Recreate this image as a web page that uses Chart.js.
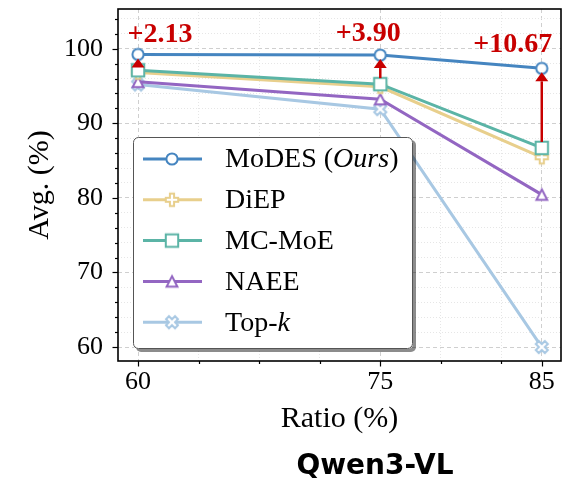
<!DOCTYPE html>
<html><head><meta charset="utf-8">
<script src="https://cdn.jsdelivr.net/npm/chart.js"></script>
<style>
html,body{margin:0;padding:0;background:#fff;}
#wrap{position:relative;width:575px;height:479px;overflow:hidden;}
#caption{position:absolute;left:225px;width:300px;top:451px;text-align:center;font:bold 28px "DejaVu Sans",sans-serif;line-height:28px;color:#000;}
</style></head>
<body><div id="wrap"><canvas id="c" width="575" height="479"></canvas><div id="caption">Qwen3-VL</div></div>
<script>
// ---- data ----
const ratios = [60, 75, 85];
const seriesNames = ['MoDES (*Ours*)', 'DiEP', 'MC-MoE', 'NAEE', 'Top-*k*'];
const modes = [99.24, 99.15, 97.37];
const diep  = [96.80, 94.90, 85.45];
const mcmoe = [97.11, 95.25, 86.70];
const naee  = [95.56, 93.24, 80.44];
const topk  = [95.20, 91.90, 60.00];
const gains = ['+2.13', '+3.90', '+10.67'];
const xTicks = [60, 63.75, 67.5, 71.25, 75, 78.75, 82.5, 85];
const xMajor = [60, 75, 85];
const yTicks = [60, 62, 64, 66, 68, 70, 72, 74, 76, 78, 80, 82, 84, 86, 88, 90, 92, 94, 96, 98, 100, 102, 104];
const yMajor = [60, 70, 80, 90, 100];

const colors = ['#4585c0', '#e8cf8c', '#5bb4a6', '#9366c2', '#a8c8e3'];
const shapes = ['circle', 'plus', 'square', 'triangle', 'x'];
const orders = [0, 2, 1, 3, 4];
const values = [modes, diep, mcmoe, naee, topk];
const RED = '#c80000';
const SERIF = '"Liberation Serif","Times New Roman",serif';

function marker(shape, color) {
  const s = 22, c = document.createElement('canvas');
  c.width = s; c.height = s;
  const g = c.getContext('2d');
  g.translate(s / 2, s / 2);
  g.beginPath();
  if (shape === 'circle') g.arc(0, 0, 5.6, 0, Math.PI * 2);
  else if (shape === 'square') g.rect(-6.2, -6.2, 12.4, 12.4);
  else if (shape === 'triangle') { g.moveTo(0, -5.2); g.lineTo(5.4, 5.2); g.lineTo(-5.4, 5.2); g.closePath(); }
  else {
    const a = shape === 'x' ? 6.4 : 6.2, b = 2.1;
    if (shape === 'x') g.rotate(Math.PI / 4);
    const p = [[-b,-a],[b,-a],[b,-b],[a,-b],[a,b],[b,b],[b,a],[-b,a],[-b,b],[-a,b],[-a,-b],[-b,-b]];
    p.forEach((q, i) => i ? g.lineTo(q[0], q[1]) : g.moveTo(q[0], q[1]));
    g.closePath();
  }
  g.fillStyle = '#fff'; g.fill();
  g.lineWidth = 2; g.lineJoin = 'miter'; g.strokeStyle = color; g.stroke();
  return c;
}
const markers = shapes.map((s, i) => marker(s, colors[i]));

const datasets = values.map((vals, i) => ({
  label: seriesNames[i].replace(/\*/g, ''),
  data: ratios.map((r, j) => ({ x: r, y: vals[j] })),
  borderColor: colors[i],
  backgroundColor: colors[i],
  borderWidth: 3,
  pointStyle: markers[i],
  pointRadius: 6,
  order: orders[i],
  tension: 0
}));

const isMajor = (arr, v) => arr.some(m => Math.abs(m - v) < 1e-6);

function roundRect(ctx, x, y, w, h, r) {
  ctx.beginPath();
  ctx.moveTo(x + r, y); ctx.lineTo(x + w - r, y); ctx.arcTo(x + w, y, x + w, y + r, r);
  ctx.lineTo(x + w, y + h - r); ctx.arcTo(x + w, y + h, x + w - r, y + h, r);
  ctx.lineTo(x + r, y + h); ctx.arcTo(x, y + h, x, y + h - r, r);
  ctx.lineTo(x, y + r); ctx.arcTo(x, y, x + r, y, r); ctx.closePath();
}

const deco = {
  id: 'deco',
  afterDatasetsDraw(chart) {
    const { ctx, scales: { x, y } } = chart;
    const ox = [22, -12, -29], oy = [-21, -22, -25];
    ratios.forEach((r, i) => {
      const px = x.getPixelForValue(r);
      const tip = y.getPixelForValue(modes[i]) + 4;
      const tail = y.getPixelForValue(mcmoe[i]) - 6;
      const hl = 9, hw = 6.5;
      ctx.save();
      if (tail > tip + hl) {
        ctx.strokeStyle = RED; ctx.lineWidth = 2.5;
        ctx.beginPath(); ctx.moveTo(px, tail); ctx.lineTo(px, tip + hl); ctx.stroke();
      }
      ctx.fillStyle = RED;
      ctx.beginPath(); ctx.moveTo(px, tip); ctx.lineTo(px - hw, tip + hl); ctx.lineTo(px + hw, tip + hl); ctx.closePath(); ctx.fill();
      ctx.font = 'bold 28px ' + SERIF;
      ctx.textAlign = 'center'; ctx.textBaseline = 'middle';
      ctx.fillText(gains[i], px + ox[i], y.getPixelForValue(modes[i]) + oy[i] + 1);
      ctx.restore();
    });
  },
  afterDraw(chart) {
    const { ctx, chartArea: a, scales: { x, y } } = chart;
    ctx.save();
    ctx.strokeStyle = '#000'; ctx.lineWidth = 1.2;
    yTicks.forEach(v => {
      const py = Math.round(y.getPixelForValue(v)) + 0.5;
      const L = isMajor(yMajor, v) ? 5.5 : 3;
      ctx.beginPath(); ctx.moveTo(a.left, py); ctx.lineTo(a.left - L, py); ctx.stroke();
    });
    xTicks.forEach(v => {
      const px = Math.round(x.getPixelForValue(v)) + 0.5;
      const L = isMajor(xMajor, v) ? 5.5 : 3;
      ctx.beginPath(); ctx.moveTo(px, a.bottom); ctx.lineTo(px, a.bottom + L); ctx.stroke();
    });
    ctx.lineWidth = 1.6;
    ctx.strokeRect(a.left, a.top, a.right - a.left, a.bottom - a.top);
    // legend
    const lx = a.left + 15, ly = a.top + 128, lw = 280, lh = 212;
    ctx.fillStyle = 'rgba(0,0,0,0.45)';
    roundRect(ctx, lx + 3, ly + 3, lw, lh, 5); ctx.fill();
    ctx.fillStyle = '#fff';
    roundRect(ctx, lx, ly, lw, lh, 5); ctx.fill();
    ctx.strokeStyle = '#555'; ctx.lineWidth = 1;
    roundRect(ctx, lx + 0.5, ly + 0.5, lw - 1, lh - 1, 5); ctx.stroke();
    seriesNames.forEach((name, i) => {
      const ry = ly + 22 + i * 40.8;
      ctx.strokeStyle = colors[i]; ctx.lineWidth = 3;
      ctx.beginPath(); ctx.moveTo(lx + 10, ry); ctx.lineTo(lx + 69, ry); ctx.stroke();
      const m = markers[i];
      ctx.drawImage(m, lx + 39 - m.width / 2, ry - m.height / 2);
      let tx = lx + 92;
      ctx.fillStyle = '#000'; ctx.textAlign = 'left'; ctx.textBaseline = 'middle';
      name.split('*').forEach((seg, k) => {
        if (!seg) return;
        ctx.font = (k % 2 ? 'italic ' : '') + '28px ' + SERIF;
        ctx.fillText(seg, tx, ry + 1);
        tx += ctx.measureText(seg).width;
      });
    });
    ctx.restore();
  }
};

new Chart(document.getElementById('c'), {
  type: 'line',
  data: { datasets },
  options: {
    responsive: false,
    animation: false,
    events: [],
    layout: { padding: { top: 7, right: 14, bottom: 0, left: 0 } },
    plugins: { legend: { display: false }, tooltip: { enabled: false } },
    scales: {
      x: {
        type: 'linear', min: 58.76, max: 86.19,
        afterBuildTicks: s => { s.ticks = xTicks.map(v => ({ value: v })); },
        afterFit: s => { s.height = 118; s.paddingLeft = 0; s.paddingRight = 0; },
        ticks: {
          autoSkip: false, maxRotation: 0, padding: 6, color: '#000',
          font: { family: SERIF, size: 26 },
          callback: v => isMajor(xMajor, v) ? String(v) : ''
        },
        grid: {
          drawTicks: false, lineWidth: 1,
          color: c => (c.tick && isMajor(xMajor, c.tick.value)) ? '#cfcfcf' : '#e6e6e6'
        },
        border: { display: false, dash: c => c.tick ? (isMajor(xMajor, c.tick.value) ? [4, 3] : [1, 2]) : [] },
        title: { display: true, text: 'Ratio (%)', color: '#000', font: { family: SERIF, size: 30 }, padding: { top: 0, bottom: 42 } }
      },
      y: {
        type: 'linear', min: 58.13, max: 105.33,
        afterBuildTicks: s => { s.ticks = yTicks.map(v => ({ value: v })); },
        afterFit: s => { s.width = 118; s.paddingTop = 0; s.paddingBottom = 0; },
        ticks: {
          autoSkip: false, padding: 15, color: '#000',
          font: { family: SERIF, size: 26 },
          callback: v => isMajor(yMajor, v) ? String(v) : ''
        },
        grid: {
          drawTicks: false, lineWidth: 1,
          color: c => (c.tick && isMajor(yMajor, c.tick.value)) ? '#cfcfcf' : '#e6e6e6'
        },
        border: { display: false, dash: c => c.tick ? (isMajor(yMajor, c.tick.value) ? [4, 3] : [1, 2]) : [] },
        title: { display: true, text: 'Avg. (%)', color: '#000', font: { family: SERIF, size: 30 }, padding: { top: 22, bottom: 0 } }
      }
    }
  },
  plugins: [deco]
});
</script>
</body></html>
